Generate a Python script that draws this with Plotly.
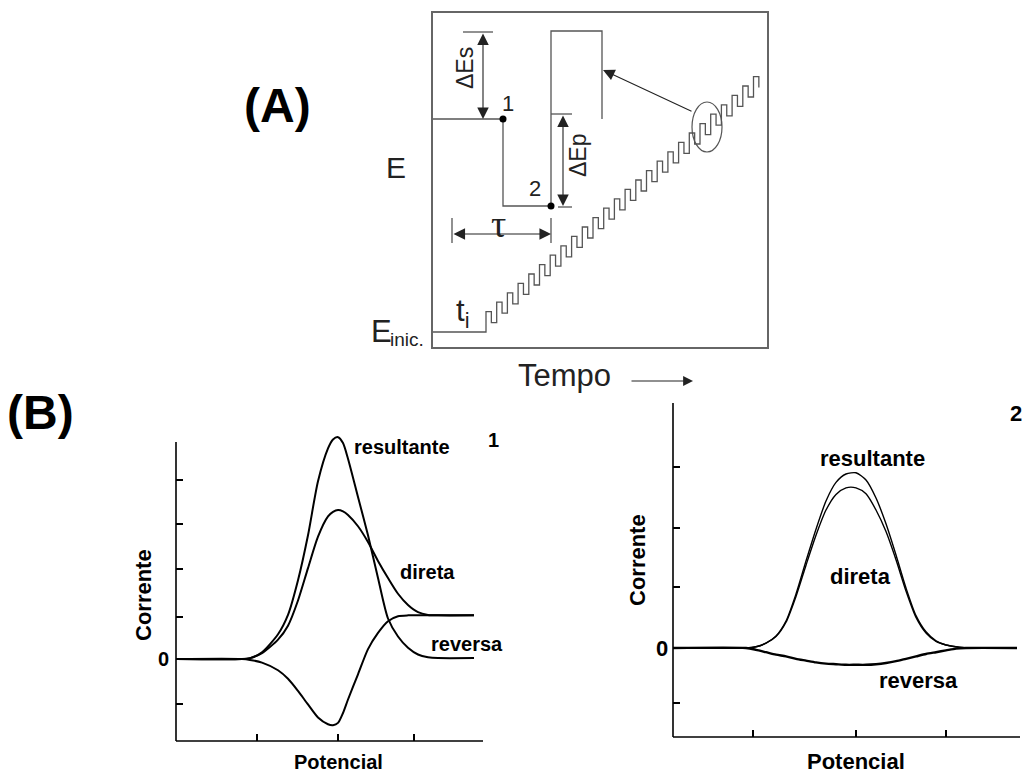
import plotly.graph_objects as go

W, H = 1025, 774
SANS = "Liberation Sans, Arial, sans-serif"
SERIF = "Liberation Serif, Times New Roman, serif"
GRAY = "#555555"

# ---------------- (A) square-wave staircase waveform (time / potential units) ----------------
E_INIC = 15.0        # initial potential level
T_START = 53.0       # t_i, start of the staircase
PERIOD = 10.7        # tau, one square-wave cycle
STEP = 9.4           # staircase increment
PULSE = 11.0         # square-wave amplitude
N_CYCLES = 26

# enlarged single cycle (inset)
inset_x = [0, 70, 70, 118, 118, 169, 169]
inset_y = [228, 228, 141, 141, 316, 316, 228]
sample_x = [70, 118]          # current sampling points 1 and 2
sample_y = [228, 141]

# ---------------- (B) square-wave voltammograms ----------------
# voltammogram 1
pot1 = [-2.02, -1.2, -1.1, -0.95, -0.75, -0.625, -0.5, -0.375, -0.25, -0.125, -0.0625, 0.0,
        0.0625, 0.125, 0.25, 0.375, 0.5, 0.625, 0.75, 0.875, 1.0, 1.125, 1.25, 1.7]
resultante1 = [0, 0, 0.02, 0.15, 0.55, 0.98, 1.75, 2.75, 3.95, 4.68, 4.88, 4.93,
               4.8, 4.45, 3.6, 2.75, 1.8, 0.9, 0.5, 0.25, 0.1, 0.04, 0.02, 0.02]
direta1 = [0, 0, 0.02, 0.13, 0.43, 0.74, 1.3, 2.02, 2.72, 3.17, 3.27, 3.31,
           3.28, 3.2, 2.95, 2.6, 2.18, 1.8, 1.45, 1.2, 1.04, 0.98, 0.97, 0.97]
reversa1 = [0, 0, -0.02, -0.08, -0.25, -0.44, -0.71, -1.01, -1.3, -1.45, -1.47, -1.42,
            -1.2, -0.9, -0.34, 0.22, 0.58, 0.84, 0.95, 0.97, 0.97, 0.97, 0.97, 0.97]
yticks1 = [-1.0, 0.0, 0.93, 2.0, 3.0, 3.98]
xticks1 = [-1.01, 0.0, 0.95]

# voltammogram 2
pot2 = [-1.83, -1.1, -1.0, -0.9, -0.8, -0.7, -0.6, -0.5, -0.4, -0.3, -0.2, -0.1, 0.0,
        0.1, 0.2, 0.3, 0.4, 0.5, 0.6, 0.7, 0.8, 0.9, 1.0, 1.1, 1.61]
resultante2 = [0, 0, 0.02, 0.08, 0.2, 0.45, 0.9, 1.45, 1.98, 2.45, 2.76, 2.9, 2.92,
               2.8, 2.5, 2.07, 1.55, 1.0, 0.54, 0.27, 0.12, 0.05, 0.02, 0, 0]
direta2 = [0, 0, 0.02, 0.08, 0.19, 0.43, 0.86, 1.38, 1.88, 2.3, 2.56, 2.67, 2.67,
           2.57, 2.3, 1.94, 1.47, 0.95, 0.51, 0.25, 0.11, 0.05, 0.02, 0, 0]
reversa2 = [0, 0, -0.03, -0.07, -0.11, -0.14, -0.18, -0.21, -0.24, -0.26, -0.27, -0.28, -0.28,
            -0.28, -0.27, -0.25, -0.22, -0.18, -0.14, -0.1, -0.07, -0.04, -0.01, 0, 0]
yticks2 = [-0.92, 0.0, 1.02, 2.0, 3.02]
xticks2 = [-1.03, 0.0, 0.9]


def px(x):
    return x / W


def py(y):
    return 1 - y / H


# build the staircase trace from the waveform parameters
wave_t = [0.0, T_START]
wave_e = [E_INIC, E_INIC]
for k in range(N_CYCLES):
    t0 = T_START + k * PERIOD
    base = E_INIC + k * STEP
    top = base + STEP + PULSE
    wave_t += [t0, t0 + PERIOD / 2, t0 + PERIOD / 2]
    wave_e += [top, top, top - PULSE]
    if k < N_CYCLES - 1:
        wave_t.append(t0 + PERIOD)
        wave_e.append(top - PULSE)

fig = go.Figure()

# panel A
fig.add_trace(go.Scatter(x=wave_t, y=wave_e, mode="lines", xaxis="x3", yaxis="y3",
                         line=dict(color=GRAY, width=1.3), hoverinfo="skip"))
fig.add_trace(go.Scatter(x=inset_x, y=inset_y, mode="lines", xaxis="x3", yaxis="y3",
                         line=dict(color=GRAY, width=1.3), hoverinfo="skip"))
fig.add_trace(go.Scatter(x=sample_x, y=sample_y, mode="markers", xaxis="x3", yaxis="y3",
                         marker=dict(color="black", size=7), hoverinfo="skip"))

# panel B1
for yy, w in [(resultante1, 2), (direta1, 2), (reversa1, 2)]:
    fig.add_trace(go.Scatter(x=pot1, y=yy, mode="lines", xaxis="x", yaxis="y",
                             line=dict(color="black", width=w, shape="spline", smoothing=0.7),
                             hoverinfo="skip"))
# panel B2
for yy, w in [(reversa2, 2.4), (direta2, 1.4), (resultante2, 1.4)]:
    fig.add_trace(go.Scatter(x=pot2, y=yy, mode="lines", xaxis="x2", yaxis="y2",
                             line=dict(color="black", width=w, shape="spline", smoothing=0.7),
                             hoverinfo="skip"))

tick_common = dict(showgrid=False, zeroline=False, showline=False, ticks="inside",
                   ticklen=7, tickwidth=1.5, tickcolor="black", showticklabels=False,
                   fixedrange=True)

fig.update_layout(
    width=W, height=H, margin=dict(l=0, r=0, t=0, b=0),
    paper_bgcolor="white", plot_bgcolor="white", showlegend=False,
    xaxis=dict(domain=[px(176), px(483)], range=[-2.025, 1.8125], tickvals=xticks1,
               anchor="y", **tick_common),
    yaxis=dict(domain=[py(741), py(434)], range=[-1.8222, 5.0], tickvals=yticks1,
               anchor="x", **tick_common),
    xaxis2=dict(domain=[px(673), px(1017)], range=[-1.83, 1.61], tickvals=xticks2,
                anchor="y2", **tick_common),
    yaxis2=dict(domain=[py(737), py(403)], range=[-1.4833, 4.0833], tickvals=yticks2,
                anchor="x2", **tick_common),
    xaxis3=dict(domain=[px(433), px(767)], range=[0, 334], anchor="y3", showgrid=False,
                zeroline=False, showticklabels=False, ticks="", showline=True, mirror=True,
                linecolor="#666666", linewidth=1.5),
    yaxis3=dict(domain=[py(347), py(13)], range=[0, 334], anchor="x3", showgrid=False,
                zeroline=False, showticklabels=False, ticks="", showline=True, mirror=True,
                linecolor="#666666", linewidth=1.5),
)

shapes = []


def seg(x0, y0, x1, y1, color=GRAY, width=1.3, ref="x3"):
    yref = "y3" if ref == "x3" else "paper"
    shapes.append(dict(type="line", x0=x0, y0=y0, x1=x1, y1=y1, xref=ref, yref=yref,
                       line=dict(color=color, width=width)))


# axis frames for the voltammograms
seg(px(176), py(442), px(176), py(741), "black", 1.6, "paper")
seg(px(176), py(741), px(483), py(741), "black", 1.6, "paper")
seg(px(673), py(403), px(673), py(737), "black", 1.6, "paper")
seg(px(673), py(737), px(1020), py(737), "black", 1.6, "paper")

# dimension ticks in panel A
seg(30, 315, 60, 315)          # top of delta Es
seg(118, 233, 139, 233)        # top of delta Ep
seg(125, 140, 139, 140)        # bottom of delta Ep
seg(19, 104, 19, 129)          # tau left
seg(118, 104, 118, 129)        # tau right
# ellipse around one cycle
shapes.append(dict(type="circle", xref="x3", yref="y3", x0=259, x1=289, y0=195, y1=245,
                   line=dict(color=GRAY, width=1.2)))
fig.update_layout(shapes=shapes)

ann = []


def arrow(x, y, ax, ay, both=True):
    ann.append(dict(x=x, y=y, ax=ax, ay=ay, xref="x3", yref="y3", axref="x3", ayref="y3",
                    text="", showarrow=True, arrowhead=2, startarrowhead=2,
                    arrowside="end+start" if both else "end", arrowsize=2.1,
                    startarrowsize=2.1, arrowwidth=1.1, arrowcolor="#222222",
                    standoff=0, startstandoff=0))


arrow(50, 228, 50, 315)        # delta Es
arrow(130, 141, 130, 233)      # delta Ep
arrow(118, 113, 19, 113)       # tau
arrow(170, 277, 260, 235, both=False)

# time arrow
ann.append(dict(x=px(693), y=py(381), ax=-63, ay=0, xref="paper", yref="paper", text="",
                showarrow=True, arrowhead=2, arrowsize=1.8, arrowwidth=1.1,
                arrowcolor="#222222", standoff=0))


def label(text, xp, yp, size, bold=False, angle=0, family=SANS, xanchor="center",
          color="black"):
    ann.append(dict(x=px(xp), y=py(yp), xref="paper", yref="paper",
                    text=f"<b>{text}</b>" if bold else text, showarrow=False,
                    textangle=angle, xanchor=xanchor, yanchor="middle",
                    font=dict(family=family, size=size, color=color)))


label("(A)", 277, 106, 48, bold=True)
label("(B)", 40, 412, 48, bold=True)

label("E", 396, 168, 30, color="#222222")
label("E", 381, 332, 31, color="#222222")
label("inic.", 388, 339, 19, xanchor="left", color="#222222")
label("t<sub>i</sub>", 462, 313, 31, color="#222222")
label("τ", 498, 224, 38, family=SERIF, color="#222222")
label("ΔEs", 465, 68, 23, angle=-90, color="#222222")
label("ΔEp", 578, 155, 23, angle=-90, color="#222222")
label("1", 508, 104, 22, color="#222222")
label("2", 535, 188, 22, color="#222222")
label("Tempo", 564, 375, 31, color="#222222")

label("resultante", 402, 447, 20, bold=True)
label("1", 493, 440, 20, bold=True)
label("direta", 427, 572, 20, bold=True)
label("reversa", 467, 644, 20, bold=True)
label("0", 163, 659, 20, bold=True)
label("Corrente", 143, 595, 22, bold=True, angle=-90)
label("Potencial", 338, 762, 20, bold=True)

label("resultante", 872, 458, 22, bold=True)
label("direta", 860, 576, 22, bold=True)
label("reversa", 918, 680, 22, bold=True)
label("2", 1016, 414, 22, bold=True)
label("0", 662, 648, 22, bold=True)
label("Corrente", 637, 560, 22, bold=True, angle=-90)
label("Potencial", 856, 761, 22, bold=True)

fig.update_layout(annotations=ann)

fig.write_html("out.html", config={"displayModeBar": False})
